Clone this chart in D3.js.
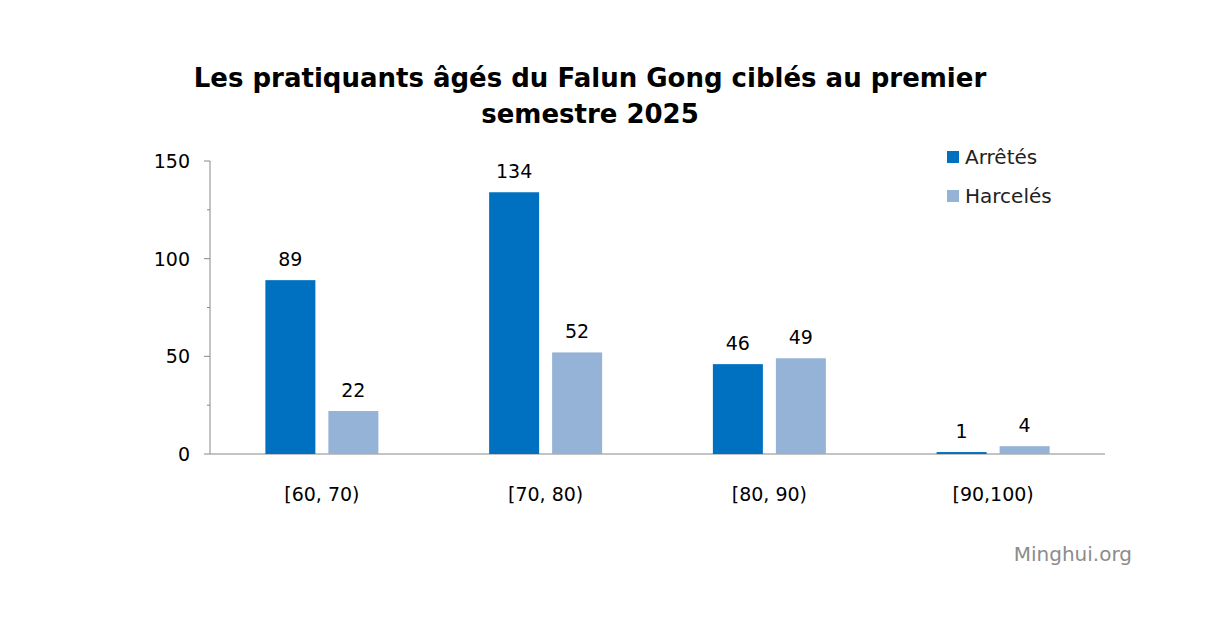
<!DOCTYPE html>
<html><head><meta charset="utf-8">
<script src="https://cdn.jsdelivr.net/npm/d3@7.9.0/dist/d3.min.js"></script>
<style>body{margin:0;background:#fff}text{font-family:"DejaVu Sans",Verdana,sans-serif}</style>
</head><body><svg id="c" width="1220" height="634"></svg>
<script>
// chart data
const categories = ['[60, 70)', '[70, 80)', '[80, 90)', '[90,100)'];
const arretes = [89, 134, 46, 1];
const harceles = [22, 52, 49, 4];
const seriesNames = ['Arrêtés', 'Harcelés'];
const colors = ['#0070c0', '#95b3d7'];
const yTicks = [0, 50, 100, 150];

const svg = d3.select('#c');
const x = d3.scaleBand().domain(categories).range([210, 1105]);
const y = d3.scaleLinear().domain([0, 150]).range([454, 161]);

svg.append('text').attr('x', 590).attr('y', 87).attr('text-anchor', 'middle')
  .attr('font-size', 26).attr('font-weight', 'bold').text('Les pratiquants âgés du Falun Gong ciblés au premier');
svg.append('text').attr('x', 590).attr('y', 123).attr('text-anchor', 'middle')
  .attr('font-size', 26).attr('font-weight', 'bold').text('semestre 2025');

// y axis
svg.append('line').attr('x1', 210).attr('x2', 210).attr('y1', y(150)).attr('y2', y(0)).attr('stroke', '#888');
d3.range(0, 151, 25).forEach(v => {
  const major = v % 50 === 0;
  svg.append('line').attr('x1', major ? 204 : 207).attr('x2', 210)
    .attr('y1', y(v)).attr('y2', y(v)).attr('stroke', '#888');
});
yTicks.forEach(v => svg.append('text').attr('x', 190).attr('y', y(v) + 7)
  .attr('text-anchor', 'end').attr('font-size', 19).text(v));
svg.append('line').attr('x1', 210).attr('x2', 1105).attr('y1', y(0)).attr('y2', y(0)).attr('stroke', '#888');

const bw = 50, gap = 13;
[arretes, harceles].forEach((vals, s) => {
  categories.forEach((c, i) => {
    const cx = x(c) + x.bandwidth() / 2;
    const bx = s === 0 ? cx - gap / 2 - bw : cx + gap / 2;
    svg.append('rect').attr('x', bx).attr('y', y(vals[i])).attr('width', bw)
      .attr('height', y(0) - y(vals[i])).attr('fill', colors[s]);
    svg.append('text').attr('x', bx + bw / 2).attr('y', y(vals[i]) - 14)
      .attr('text-anchor', 'middle').attr('font-size', 19).text(vals[i]);
  });
});

categories.forEach(c => svg.append('text').attr('x', x(c) + x.bandwidth() / 2).attr('y', 501)
  .attr('text-anchor', 'middle').attr('font-size', 19).text(c));

seriesNames.forEach((n, i) => {
  svg.append('rect').attr('x', 947).attr('y', 151 + i * 39).attr('width', 12).attr('height', 12).attr('fill', colors[i]);
  svg.append('text').attr('x', 965).attr('y', 164 + i * 39).attr('font-size', 20).attr('fill', '#222').text(n);
});

svg.append('text').attr('x', 1132).attr('y', 561).attr('text-anchor', 'end')
  .attr('font-size', 20).attr('fill', '#8c8c8c').text('Minghui.org');
</script></body></html>
